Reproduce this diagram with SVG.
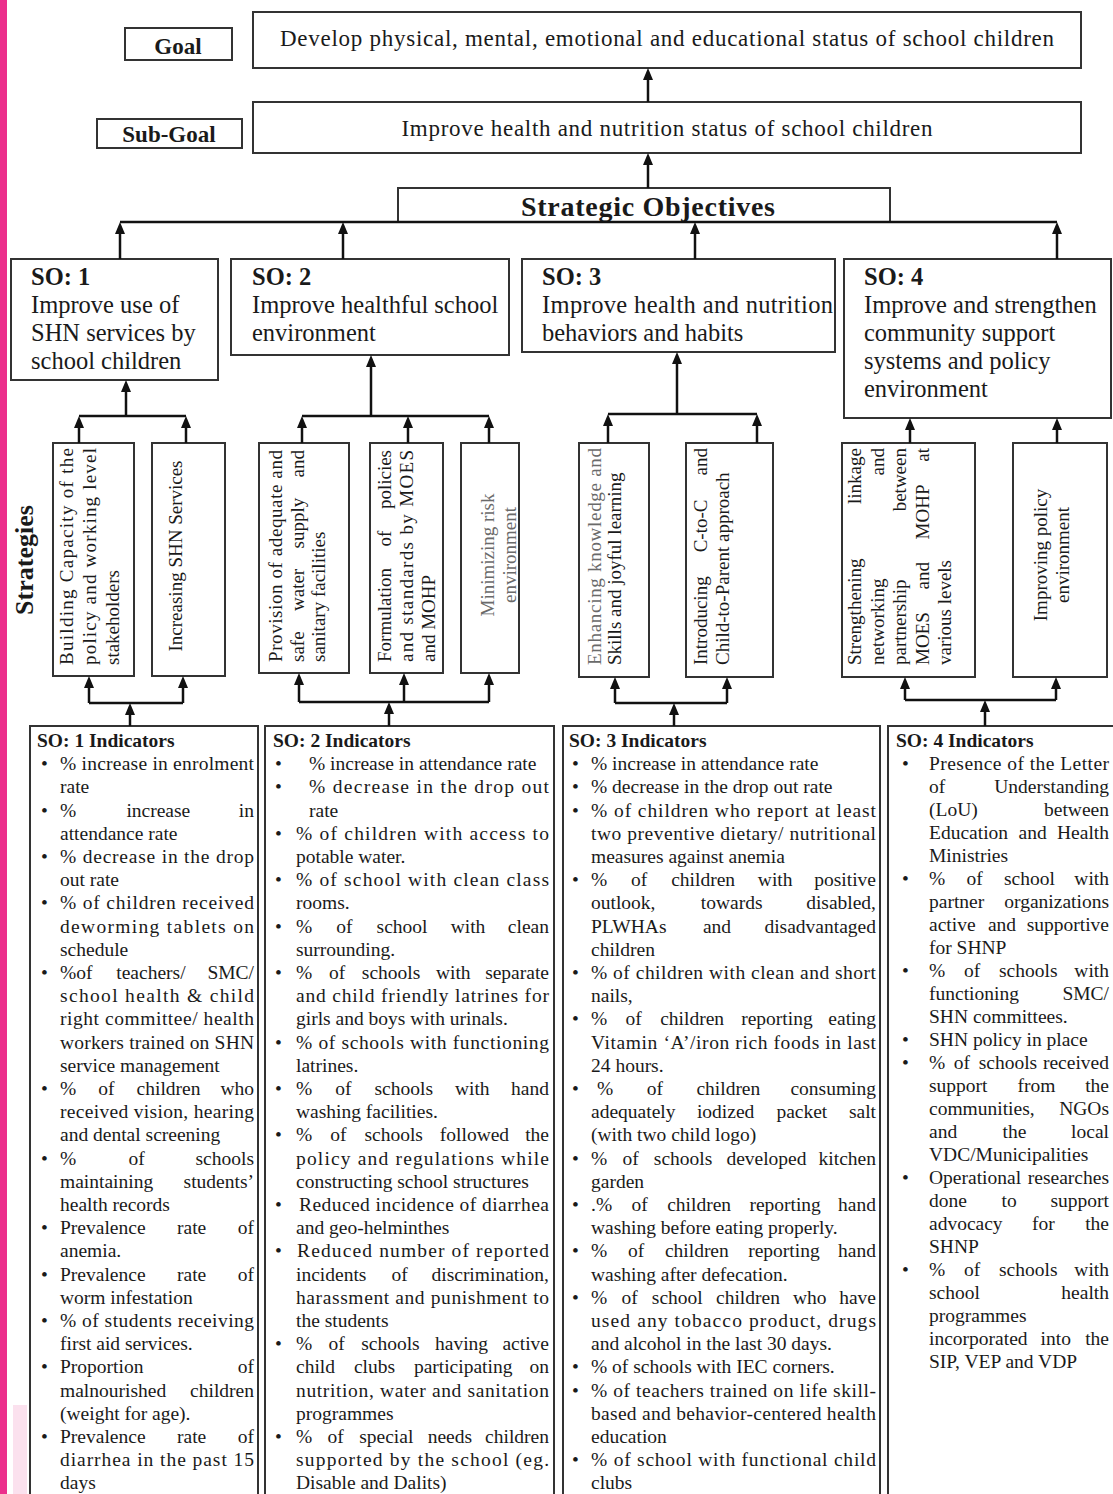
<svg xmlns="http://www.w3.org/2000/svg" width="1113" height="1494" viewBox="0 0 1113 1494">
<defs>
<style>
text{font-family:"Liberation Serif","Times New Roman",serif;fill:#1a1a1a}
.b{font-weight:bold}
.e{text-anchor:end}
.m{text-anchor:middle}
.ind{font-size:19.5px}
.so{font-size:24.5px}
.st{font-size:19px}
.g{fill:#6a6a6a}
.box{fill:#fff;stroke:#333;stroke-width:2}
.conn{stroke:#111;stroke-width:2.5;fill:none}
</style>
<marker id="ah" viewBox="0 0 12 10" refX="6" refY="5" markerWidth="12" markerHeight="10" markerUnits="userSpaceOnUse" orient="auto">
<path d="M0,0 L12,5 L0,10 z" fill="#111"/>
</marker>
</defs>
<rect x="0" y="0" width="1113" height="1494" fill="#fff"/>
<rect x="0" y="0" width="7" height="1494" fill="#ec2f8c"/>
<rect x="13" y="1405" width="14" height="89" fill="#fbe1ee"/>

<g id="goal-label"><rect class="box" x="125" y="28" width="107" height="32"/><text class="b m" x="178" y="54" font-size="23">Goal</text></g>
<g id="goal"><rect class="box" x="253" y="12" width="828" height="56"/><text class="m" x="667" y="46" font-size="23" textLength="774" lengthAdjust="spacing">Develop physical, mental, emotional and educational status of school children</text></g>
<g id="subgoal-label"><rect class="box" x="97" y="119" width="145" height="29"/><text class="b m" x="169" y="142" font-size="23">Sub-Goal</text></g>
<g id="subgoal"><rect class="box" x="253" y="102" width="828" height="51"/><text class="m" x="667" y="136" font-size="23" textLength="531" lengthAdjust="spacing">Improve health and nutrition status of school children</text></g>
<g id="strategic-objectives"><rect class="box" x="398" y="188" width="492" height="34"/><text class="b m" x="648" y="216" font-size="28" textLength="254" lengthAdjust="spacing">Strategic Objectives</text></g>

<g id="so1"><rect class="box" x="11" y="259" width="207" height="121"/>
<text class="so b" x="31" y="285">SO: 1</text><text class="so" x="31" y="313">Improve use of</text><text class="so" x="31" y="341">SHN services by</text><text class="so" x="31" y="369">school children</text></g>
<g id="so2"><rect class="box" x="231" y="259" width="278" height="96"/>
<text class="so b" x="252" y="285">SO: 2</text><text class="so" x="252" y="313">Improve healthful school</text><text class="so" x="252" y="341">environment</text></g>
<g id="so3"><rect class="box" x="522" y="259" width="313" height="93"/>
<text class="so b" x="542" y="285">SO: 3</text><text class="so" x="542" y="313" textLength="291" lengthAdjust="spacing">Improve health and nutrition</text><text class="so" x="542" y="341">behaviors and habits</text></g>
<g id="so4"><rect class="box" x="844" y="259" width="267" height="159"/>
<text class="so b" x="864" y="285">SO: 4</text><text class="so" x="864" y="313">Improve and strengthen</text><text class="so" x="864" y="341">community support</text><text class="so" x="864" y="369">systems and policy</text><text class="so" x="864" y="397">environment</text></g>

<g id="strategies-label"><text class="b m" font-size="26" transform="translate(33,560) rotate(-90)">Strategies</text></g>

<g id="st1"><rect class="box" x="53" y="443" width="81" height="233"/>
<text class="st" transform="translate(73,665) rotate(-90)" textLength="217" lengthAdjust="spacing">Building Capacity of the</text>
<text class="st" transform="translate(96,665) rotate(-90)" textLength="217" lengthAdjust="spacing">policy and working level</text>
<text class="st" transform="translate(119,665) rotate(-90)">stakeholders</text></g>
<g id="st2"><rect class="box" x="152" y="443" width="73" height="233"/>
<text class="st m" transform="translate(182,556) rotate(-90)">Increasing SHN Services</text></g>
<g id="st3"><rect class="box" x="259" y="443" width="90" height="230"/>
<text class="st" transform="translate(282,662) rotate(-90)" textLength="212" lengthAdjust="spacing">Provision of adequate and</text>
<g transform="translate(304,662) rotate(-90)"><text class="st" x="0" y="0">safe</text><text class="st" x="51" y="0">water</text><text class="st" x="113.6" y="0">supply</text><text class="st e" x="212" y="0">and</text></g>
<text class="st" transform="translate(325,662) rotate(-90)">sanitary facilities</text></g>
<g id="st4"><rect class="box" x="370" y="443" width="73" height="230"/>
<g transform="translate(391,662) rotate(-90)"><text class="st" x="0" y="0">Formulation</text><text class="st" x="115.5" y="0">of</text><text class="st e" x="212" y="0">policies</text></g>
<text class="st" transform="translate(413,662) rotate(-90)" textLength="212" lengthAdjust="spacing">and standards by MOES</text>
<text class="st" transform="translate(435,662) rotate(-90)">and MOHP</text></g>
<g id="st5"><rect class="box" x="461" y="443" width="58" height="230"/>
<text class="st m g" transform="translate(494,555) rotate(-90)">Minimizing risk</text>
<text class="st m g" transform="translate(516,555) rotate(-90)">environment</text></g>
<g id="st6"><rect class="box" x="579" y="443" width="70" height="234"/>
<text class="st g" transform="translate(601,665) rotate(-90)" textLength="217" lengthAdjust="spacing">Enhancing knowledge and</text>
<text class="st" transform="translate(621,665) rotate(-90)">Skills and joyful learning</text></g>
<g id="st7"><rect class="box" x="686" y="443" width="87" height="234"/>
<g transform="translate(707,665) rotate(-90)"><text class="st" x="0" y="0">Introducing</text><text class="st" x="112.7" y="0">C-to-C</text><text class="st e" x="217" y="0">and</text></g>
<text class="st" transform="translate(729,665) rotate(-90)">Child-to-Parent approach</text></g>
<g id="st8"><rect class="box" x="842" y="443" width="133" height="234"/>
<g transform="translate(861,665) rotate(-90)"><text class="st" x="0" y="0">Strengthening</text><text class="st e" x="217" y="0">linkage</text></g>
<g transform="translate(883.5,665) rotate(-90)"><text class="st" x="0" y="0">networking</text><text class="st e" x="217" y="0">and</text></g>
<g transform="translate(906,665) rotate(-90)"><text class="st" x="0" y="0">partnership</text><text class="st e" x="217" y="0">between</text></g>
<g transform="translate(928.5,665) rotate(-90)"><text class="st" x="0" y="0">MOES</text><text class="st" x="75.5" y="0">and</text><text class="st" x="125.6" y="0">MOHP</text><text class="st e" x="217" y="0">at</text></g>
<text class="st" transform="translate(951,665) rotate(-90)">various levels</text></g>
<g id="st9"><rect class="box" x="1013" y="443" width="94" height="234"/>
<text class="st m" transform="translate(1047,555) rotate(-90)">Improving policy</text>
<text class="st m" transform="translate(1069,555) rotate(-90)">environment</text></g>

<g id="ind1" class="ind"><rect class="box" x="30" y="726" width="228" height="780"/>
<text class="b" x="37" y="747">SO: 1 Indicators</text>
<text x="41" y="770.2">•</text><text x="60" y="770.2" textLength="194" lengthAdjust="spacing">% increase in enrolment</text>
<text x="60" y="793.4">rate</text>
<text x="41" y="816.6">•</text><text x="60" y="816.6">%</text><text x="126.4" y="816.6">increase</text><text class="e" x="254" y="816.6">in</text>
<text x="60" y="839.8">attendance rate</text>
<text x="41" y="863">•</text><text x="60" y="863" textLength="194" lengthAdjust="spacing">% decrease in the drop</text>
<text x="60" y="886.2">out rate</text>
<text x="41" y="909.4">•</text><text x="60" y="909.4" textLength="194" lengthAdjust="spacing">% of children received</text>
<text x="60" y="932.6" textLength="194" lengthAdjust="spacing">deworming tablets on</text>
<text x="60" y="955.8">schedule</text>
<text x="41" y="979">•</text><text x="60" y="979">%of</text><text x="116.3" y="979">teachers/</text><text class="e" x="254" y="979">SMC/</text>
<text x="60" y="1002.2" textLength="194" lengthAdjust="spacing">school health &amp; child</text>
<text x="60" y="1025.4" textLength="194" lengthAdjust="spacing">right committee/ health</text>
<text x="60" y="1048.6" textLength="194" lengthAdjust="spacing">workers trained on SHN</text>
<text x="60" y="1071.8">service management</text>
<text x="41" y="1095">•</text><text x="60" y="1095">%</text><text x="98.3" y="1095">of</text><text x="136.6" y="1095">children</text><text class="e" x="254" y="1095">who</text>
<text x="60" y="1118.2" textLength="194" lengthAdjust="spacing">received vision, hearing</text>
<text x="60" y="1141.4">and dental screening</text>
<text x="41" y="1164.6">•</text><text x="60" y="1164.6">%</text><text x="128.5" y="1164.6">of</text><text class="e" x="254" y="1164.6">schools</text>
<text x="60" y="1187.8">maintaining</text><text class="e" x="254" y="1187.8">students’</text>
<text x="60" y="1211">health records</text>
<text x="41" y="1234.2">•</text><text x="60" y="1234.2">Prevalence</text><text x="177" y="1234.2">rate</text><text class="e" x="254" y="1234.2">of</text>
<text x="60" y="1257.4">anemia.</text>
<text x="41" y="1280.6">•</text><text x="60" y="1280.6">Prevalence</text><text x="177" y="1280.6">rate</text><text class="e" x="254" y="1280.6">of</text>
<text x="60" y="1303.8">worm infestation</text>
<text x="41" y="1327">•</text><text x="60" y="1327" textLength="194" lengthAdjust="spacing">% of students receiving</text>
<text x="60" y="1350.2">first aid services.</text>
<text x="41" y="1373.4">•</text><text x="60" y="1373.4">Proportion</text><text class="e" x="254" y="1373.4">of</text>
<text x="60" y="1396.6">malnourished</text><text class="e" x="254" y="1396.6">children</text>
<text x="60" y="1419.8">(weight for age).</text>
<text x="41" y="1443">•</text><text x="60" y="1443">Prevalence</text><text x="177" y="1443">rate</text><text class="e" x="254" y="1443">of</text>
<text x="60" y="1466.2" textLength="194" lengthAdjust="spacing">diarrhea in the past 15</text>
<text x="60" y="1489.4">days</text>
</g>

<g id="ind2" class="ind"><rect class="box" x="265" y="726" width="289" height="780"/>
<text class="b" x="273" y="747">SO: 2 Indicators</text>
<text x="275" y="770.2">•</text><text x="309" y="770.2">% increase in attendance rate</text>
<text x="275" y="793.4">•</text><text x="309" y="793.4" textLength="240" lengthAdjust="spacing">% decrease in the drop out</text>
<text x="309" y="816.6">rate</text>
<text x="275" y="839.8">•</text><text x="296" y="839.8" textLength="253" lengthAdjust="spacing">% of children with access to</text>
<text x="296" y="863">potable water.</text>
<text x="275" y="886.2">•</text><text x="296" y="886.2" textLength="253" lengthAdjust="spacing">% of school with clean class</text>
<text x="296" y="909.4">rooms.</text>
<text x="275" y="932.6">•</text><text x="296" y="932.6">%</text><text x="336.3" y="932.6">of</text><text x="376.6" y="932.6">school</text><text x="450.7" y="932.6">with</text><text class="e" x="549" y="932.6">clean</text>
<text x="296" y="955.8">surrounding.</text>
<text x="275" y="979">•</text><text x="296" y="979">%</text><text x="328.9" y="979">of</text><text x="361.8" y="979">schools</text><text x="435.9" y="979">with</text><text class="e" x="549" y="979">separate</text>
<text x="296" y="1002.2" textLength="253" lengthAdjust="spacing">and child friendly latrines for</text>
<text x="296" y="1025.4">girls and boys with urinals.</text>
<text x="275" y="1048.6">•</text><text x="296" y="1048.6" textLength="253" lengthAdjust="spacing">% of schools with functioning</text>
<text x="296" y="1071.8">latrines.</text>
<text x="275" y="1095">•</text><text x="296" y="1095">%</text><text x="335.2" y="1095">of</text><text x="374.5" y="1095">schools</text><text x="454.9" y="1095">with</text><text class="e" x="549" y="1095">hand</text>
<text x="296" y="1118.2">washing facilities.</text>
<text x="275" y="1141.4">•</text><text x="296" y="1141.4">%</text><text x="330.2" y="1141.4">of</text><text x="364.4" y="1141.4">schools</text><text x="439.8" y="1141.4">followed</text><text class="e" x="549" y="1141.4">the</text>
<text x="296" y="1164.6" textLength="253" lengthAdjust="spacing">policy and regulations while</text>
<text x="296" y="1187.8">constructing school structures</text>
<text x="275" y="1211">•</text><text x="299" y="1211" textLength="250" lengthAdjust="spacing">Reduced incidence of diarrhea</text>
<text x="296" y="1234.2">and geo-helminthes</text>
<text x="275" y="1257.4">•</text><text x="297" y="1257.4" textLength="252" lengthAdjust="spacing">Reduced number of reported</text>
<text x="296" y="1280.6">incidents</text><text x="391.6" y="1280.6">of</text><text class="e" x="549" y="1280.6">discrimination,</text>
<text x="296" y="1303.8" textLength="253" lengthAdjust="spacing">harassment and punishment to</text>
<text x="296" y="1327">the students</text>
<text x="275" y="1350.2">•</text><text x="296" y="1350.2">%</text><text x="328.6" y="1350.2">of</text><text x="361.2" y="1350.2">schools</text><text x="435" y="1350.2">having</text><text class="e" x="549" y="1350.2">active</text>
<text x="296" y="1373.4">child</text><text x="353.9" y="1373.4">clubs</text><text x="413.9" y="1373.4">participating</text><text class="e" x="549" y="1373.4">on</text>
<text x="296" y="1396.6" textLength="253" lengthAdjust="spacing">nutrition, water and sanitation</text>
<text x="296" y="1419.8">programmes</text>
<text x="275" y="1443">•</text><text x="296" y="1443">%</text><text x="327.6" y="1443">of</text><text x="359.2" y="1443">special</text><text x="427.7" y="1443">needs</text><text class="e" x="549" y="1443">children</text>
<text x="296" y="1466.2" textLength="253" lengthAdjust="spacing">supported by the school (eg.</text>
<text x="296" y="1489.4">Disable and Dalits)</text>
</g>

<g id="ind3" class="ind"><rect class="box" x="563" y="726" width="317" height="780"/>
<text class="b" x="569" y="747">SO: 3 Indicators</text>
<text x="572" y="770.2">•</text><text x="591" y="770.2">% increase in attendance rate</text>
<text x="572" y="793.4">•</text><text x="591" y="793.4">% decrease in the drop out rate</text>
<text x="572" y="816.6">•</text><text x="591" y="816.6" textLength="285" lengthAdjust="spacing">% of children who report at least</text>
<text x="591" y="839.8" textLength="285" lengthAdjust="spacing">two preventive dietary/ nutritional</text>
<text x="591" y="863">measures against anemia</text>
<text x="572" y="886.2">•</text><text x="591" y="886.2">%</text><text x="631.1" y="886.2">of</text><text x="671.2" y="886.2">children</text><text x="757.8" y="886.2">with</text><text class="e" x="876" y="886.2">positive</text>
<text x="591" y="909.4">outlook,</text><text x="700.8" y="909.4">towards</text><text class="e" x="876" y="909.4">disabled,</text>
<text x="591" y="932.6">PLWHAs</text><text x="702.9" y="932.6">and</text><text class="e" x="876" y="932.6">disadvantaged</text>
<text x="591" y="955.8">children</text>
<text x="572" y="979">•</text><text x="591" y="979" textLength="285" lengthAdjust="spacing">% of children with clean and short</text>
<text x="591" y="1002.2">nails,</text>
<text x="572" y="1025.4">•</text><text x="591" y="1025.4">%</text><text x="625.6" y="1025.4">of</text><text x="660.2" y="1025.4">children</text><text x="741.2" y="1025.4">reporting</text><text class="e" x="876" y="1025.4">eating</text>
<text x="591" y="1048.6" textLength="285" lengthAdjust="spacing">Vitamin ‘A’/iron rich foods in last</text>
<text x="591" y="1071.8">24 hours.</text>
<text x="572" y="1095">•</text><text x="597" y="1095">%</text><text x="646.7" y="1095">of</text><text x="696.4" y="1095">children</text><text class="e" x="876" y="1095">consuming</text>
<text x="591" y="1118.2">adequately</text><text x="696.9" y="1118.2">iodized</text><text x="776.4" y="1118.2">packet</text><text class="e" x="876" y="1118.2">salt</text>
<text x="591" y="1141.4">(with two child logo)</text>
<text x="572" y="1164.6">•</text><text x="591" y="1164.6">%</text><text x="622.4" y="1164.6">of</text><text x="653.8" y="1164.6">schools</text><text x="726.4" y="1164.6">developed</text><text class="e" x="876" y="1164.6">kitchen</text>
<text x="591" y="1187.8">garden</text>
<text x="572" y="1211">•</text><text x="591" y="1211">.%</text><text x="631.5" y="1211">of</text><text x="667.2" y="1211">children</text><text x="749.4" y="1211">reporting</text><text class="e" x="876" y="1211">hand</text>
<text x="591" y="1234.2">washing before eating properly.</text>
<text x="572" y="1257.4">•</text><text x="591" y="1257.4">%</text><text x="627.9" y="1257.4">of</text><text x="664.9" y="1257.4">children</text><text x="748.2" y="1257.4">reporting</text><text class="e" x="876" y="1257.4">hand</text>
<text x="591" y="1280.6">washing after defecation.</text>
<text x="572" y="1303.8">•</text><text x="591" y="1303.8">%</text><text x="621.4" y="1303.8">of</text><text x="651.8" y="1303.8">school</text><text x="716" y="1303.8">children</text><text x="792.9" y="1303.8">who</text><text class="e" x="876" y="1303.8">have</text>
<text x="591" y="1327" textLength="285" lengthAdjust="spacing">used any tobacco product, drugs</text>
<text x="591" y="1350.2">and alcohol in the last  30 days.</text>
<text x="572" y="1373.4">•</text><text x="591" y="1373.4">% of schools with IEC corners.</text>
<text x="572" y="1396.6">•</text><text x="591" y="1396.6" textLength="285" lengthAdjust="spacing">% of teachers trained on life skill-</text>
<text x="591" y="1419.8" textLength="285" lengthAdjust="spacing">based and behavior-centered health</text>
<text x="591" y="1443">education</text>
<text x="572" y="1466.2">•</text><text x="591" y="1466.2" textLength="285" lengthAdjust="spacing">% of school with functional child</text>
<text x="591" y="1489.4">clubs</text>
</g>

<g id="ind4" class="ind"><rect class="box" x="888" y="726" width="240" height="780"/>
<text class="b" x="896" y="747">SO: 4 Indicators</text>
<text x="902" y="770">•</text><text x="929" y="770" textLength="180" lengthAdjust="spacing">Presence of the Letter</text>
<text x="929" y="793">of</text><text class="e" x="1109" y="793">Understanding</text>
<text x="929" y="816">(LoU)</text><text class="e" x="1109" y="816">between</text>
<text x="929" y="839">Education</text><text x="1018.5" y="839">and</text><text class="e" x="1109" y="839">Health</text>
<text x="929" y="862">Ministries</text>
<text x="902" y="885">•</text><text x="929" y="885">%</text><text x="966.5" y="885">of</text><text x="1004" y="885">school</text><text class="e" x="1109" y="885">with</text>
<text x="929" y="908">partner</text><text class="e" x="1109" y="908">organizations</text>
<text x="929" y="931">active</text><text x="987.9" y="931">and</text><text class="e" x="1109" y="931">supportive</text>
<text x="929" y="954">for SHNP</text>
<text x="902" y="977">•</text><text x="929" y="977">%</text><text x="964" y="977">of</text><text x="999" y="977">schools</text><text class="e" x="1109" y="977">with</text>
<text x="929" y="1000">functioning</text><text class="e" x="1109" y="1000">SMC/</text>
<text x="929" y="1023">SHN committees.</text>
<text x="902" y="1046">•</text><text x="929" y="1046">SHN policy in place</text>
<text x="902" y="1069">•</text><text x="929" y="1069">%</text><text x="953.8" y="1069">of</text><text x="978.7" y="1069">schools</text><text class="e" x="1109" y="1069">received</text>
<text x="929" y="1092">support</text><text x="1017.4" y="1092">from</text><text class="e" x="1109" y="1092">the</text>
<text x="929" y="1115">communities,</text><text class="e" x="1109" y="1115">NGOs</text>
<text x="929" y="1138">and</text><text x="1002.6" y="1138">the</text><text class="e" x="1109" y="1138">local</text>
<text x="929" y="1161">VDC/Municipalities</text>
<text x="902" y="1184">•</text><text x="929" y="1184">Operational</text><text class="e" x="1109" y="1184">researches</text>
<text x="929" y="1207">done</text><text x="1001.5" y="1207">to</text><text class="e" x="1109" y="1207">support</text>
<text x="929" y="1230">advocacy</text><text x="1032.1" y="1230">for</text><text class="e" x="1109" y="1230">the</text>
<text x="929" y="1253">SHNP</text>
<text x="902" y="1276">•</text><text x="929" y="1276">%</text><text x="964" y="1276">of</text><text x="999" y="1276">schools</text><text class="e" x="1109" y="1276">with</text>
<text x="929" y="1299">school</text><text class="e" x="1109" y="1299">health</text>
<text x="929" y="1322">programmes</text>
<text x="929" y="1345">incorporated</text><text x="1040.6" y="1345">into</text><text class="e" x="1109" y="1345">the</text>
<text x="929" y="1368">SIP,  VEP and VDP</text>
</g>

<g id="connectors">
<path class="conn" d="M648,102 V74" marker-end="url(#ah)"/>
<path class="conn" d="M648,188 V159" marker-end="url(#ah)"/>
<path class="conn" d="M120,222 H1057"/>
<path class="conn" d="M120,259 V228" marker-end="url(#ah)"/>
<path class="conn" d="M343,259 V228" marker-end="url(#ah)"/>
<path class="conn" d="M695,259 V228" marker-end="url(#ah)"/>
<path class="conn" d="M1057,259 V228" marker-end="url(#ah)"/>

<path class="conn" d="M126,416 V386" marker-end="url(#ah)"/>
<path class="conn" d="M79,416 H186"/>
<path class="conn" d="M79,443 V422" marker-end="url(#ah)"/>
<path class="conn" d="M186,443 V422" marker-end="url(#ah)"/>

<path class="conn" d="M371,416 V361" marker-end="url(#ah)"/>
<path class="conn" d="M302,416 H489"/>
<path class="conn" d="M302,443 V422" marker-end="url(#ah)"/>
<path class="conn" d="M408,443 V422" marker-end="url(#ah)"/>
<path class="conn" d="M489,443 V422" marker-end="url(#ah)"/>

<path class="conn" d="M677,414 V358" marker-end="url(#ah)"/>
<path class="conn" d="M608,414 H757"/>
<path class="conn" d="M608,443 V420" marker-end="url(#ah)"/>
<path class="conn" d="M757,443 V420" marker-end="url(#ah)"/>

<path class="conn" d="M910,443 V424" marker-end="url(#ah)"/>
<path class="conn" d="M1057,443 V424" marker-end="url(#ah)"/>

<path class="conn" d="M89,703 H183"/>
<path class="conn" d="M89,703 V682" marker-end="url(#ah)"/>
<path class="conn" d="M183,703 V682" marker-end="url(#ah)"/>
<path class="conn" d="M130,726 V709" marker-end="url(#ah)"/>

<path class="conn" d="M299,702 H489"/>
<path class="conn" d="M299,702 V679" marker-end="url(#ah)"/>
<path class="conn" d="M404,702 V679" marker-end="url(#ah)"/>
<path class="conn" d="M489,702 V679" marker-end="url(#ah)"/>
<path class="conn" d="M389,726 V708" marker-end="url(#ah)"/>

<path class="conn" d="M615,703 H727"/>
<path class="conn" d="M615,703 V683" marker-end="url(#ah)"/>
<path class="conn" d="M727,703 V683" marker-end="url(#ah)"/>
<path class="conn" d="M674,726 V709" marker-end="url(#ah)"/>

<path class="conn" d="M905,700 H1056"/>
<path class="conn" d="M905,700 V683" marker-end="url(#ah)"/>
<path class="conn" d="M1056,700 V683" marker-end="url(#ah)"/>
<path class="conn" d="M985,726 V706" marker-end="url(#ah)"/>
</g>
</svg>
